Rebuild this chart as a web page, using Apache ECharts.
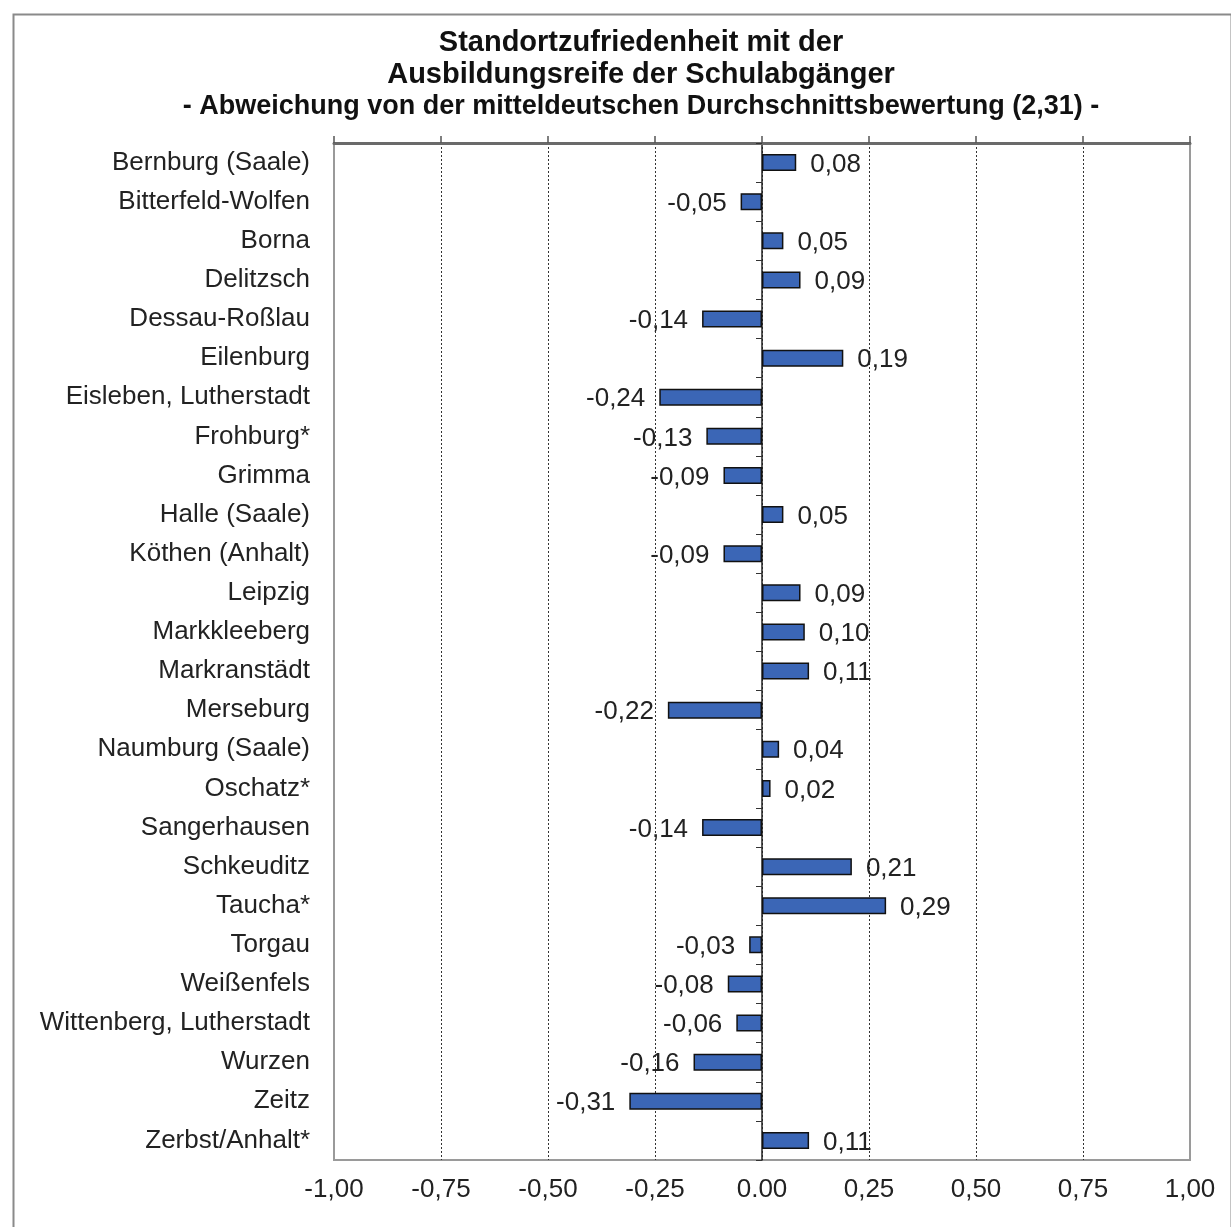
<!DOCTYPE html>
<html>
<head>
<meta charset="utf-8">
<script src="https://cdn.jsdelivr.net/npm/echarts@6/dist/echarts.min.js"></script>
<style>
  html, body { margin: 0; padding: 0; background: #fff; }
  #chart { width: 1231px; height: 1227px; }
</style>
</head>
<body>
<div id="chart"></div>
<script>
// Standorte (von oben nach unten)
const standorte = [
  'Bernburg (Saale)', 'Bitterfeld-Wolfen', 'Borna', 'Delitzsch', 'Dessau-Roßlau',
  'Eilenburg', 'Eisleben, Lutherstadt', 'Frohburg*', 'Grimma', 'Halle (Saale)',
  'Köthen (Anhalt)', 'Leipzig', 'Markkleeberg', 'Markranstädt', 'Merseburg',
  'Naumburg (Saale)', 'Oschatz*', 'Sangerhausen', 'Schkeuditz', 'Taucha*',
  'Torgau', 'Weißenfels', 'Wittenberg, Lutherstadt', 'Wurzen', 'Zeitz', 'Zerbst/Anhalt*'
];

// Abweichung von der Durchschnittsbewertung (2,31)
const abweichung = [
  0.08, -0.05, 0.05, 0.09, -0.14,
  0.19, -0.24, -0.13, -0.09, 0.05,
  -0.09, 0.09, 0.10, 0.11, -0.22,
  0.04, 0.02, -0.14, 0.21, 0.29,
  -0.03, -0.08, -0.06, -0.16, -0.31, 0.11
];

// Beschriftung der Werteachse
const achsenWerte = [-1, -0.75, -0.5, -0.25, 0, 0.25, 0.5, 0.75, 1];
const achsenText = ['-1,00', '-0,75', '-0,50', '-0,25', '0.00', '0,25', '0,50', '0,75', '1,00'];

const fmt = v => v.toFixed(2).replace('.', ',');
const font = "'Liberation Sans', Arial, sans-serif";

const chart = echarts.init(document.getElementById('chart'), null, { renderer: 'canvas' });

const option = {
  backgroundColor: '#ffffff',
  animation: false,
  title: {
    left: 636,
    top: 22,
    textAlign: 'center',
    text: '{a|Standortzufriedenheit mit der}\n{a|Ausbildungsreife der Schulabgänger}\n{b|- Abweichung von der mitteldeutschen Durchschnittsbewertung (2,31) -}',
    textStyle: {
      rich: {
        a: { fontFamily: font, fontWeight: 'bold', fontSize: 29, lineHeight: 32, color: '#111' },
        b: { fontFamily: font, fontWeight: 'bold', fontSize: 27, lineHeight: 32, color: '#111' }
      }
    }
  },
  graphic: [
    {
      type: 'rect',
      left: 11, top: 12,
      shape: { width: 1218, height: 1240 },
      style: { fill: 'none', stroke: '#8a8a8a', lineWidth: 2 },
      silent: true,
      z: 0
    }
  ],
  grid: {
    left: 334, right: 41, top: 143, bottom: 67,
    show: true,
    borderColor: '#9a9a9a',
    borderWidth: 2,
    backgroundColor: '#ffffff'
  },
  xAxis: [
    {
      type: 'value',
      position: 'bottom',
      min: -1, max: 1, interval: 0.25,
      axisLine: { show: false },
      axisTick: { show: false },
      axisLabel: {
        margin: 17,
        fontFamily: font, fontSize: 26, color: '#222',
        formatter: v => {
          const i = achsenWerte.findIndex(a => Math.abs(a - v) < 1e-9);
          return i >= 0 ? achsenText[i] : fmt(v);
        }
      },
      splitLine: {
        show: true,
        showMinLine: false,
        showMaxLine: false,
        lineStyle: { color: '#333', type: [2, 2], width: 1 }
      }
    },
    {
      type: 'value',
      position: 'top',
      min: -1, max: 1, interval: 0.25,
      axisLine: { show: true, onZero: false, lineStyle: { color: '#6a6a6a', width: 3 } },
      axisTick: { show: true, inside: false, length: 7, lineStyle: { color: '#555', width: 1.5 } },
      axisLabel: { show: false },
      splitLine: { show: false }
    }
  ],
  yAxis: [
    {
      type: 'category',
      data: standorte,
      inverse: true,
      position: 'left',
      axisLine: { show: false },
      axisTick: { show: false },
      axisLabel: {
        margin: 24,
        fontFamily: font, fontSize: 26, color: '#222'
      }
    },
    {
      type: 'category',
      data: standorte,
      inverse: true,
      position: 'left',
      axisLine: { show: true, onZero: true, lineStyle: { color: '#222', width: 1.5 } },
      axisTick: { show: true, inside: false, length: 6, lineStyle: { color: '#333', width: 1 } },
      axisLabel: { show: false }
    }
  ],
  series: [
    {
      type: 'bar',
      xAxisIndex: 0,
      yAxisIndex: 0,
      data: abweichung.map(v => ({
        value: v,
        label: {
          position: v >= 0 ? 'right' : 'left'
        }
      })),
      barWidth: 17,
      itemStyle: {
        color: '#3b66b6',
        borderColor: '#111',
        borderWidth: 1.5
      },
      label: {
        show: true,
        distance: 14,
        offset: [0, 2],
        fontFamily: font,
        fontSize: 26,
        color: '#222',
        formatter: p => fmt(p.value)
      },
      z: 3
    }
  ]
};

chart.setOption(option);
</script>
</body>
</html>
